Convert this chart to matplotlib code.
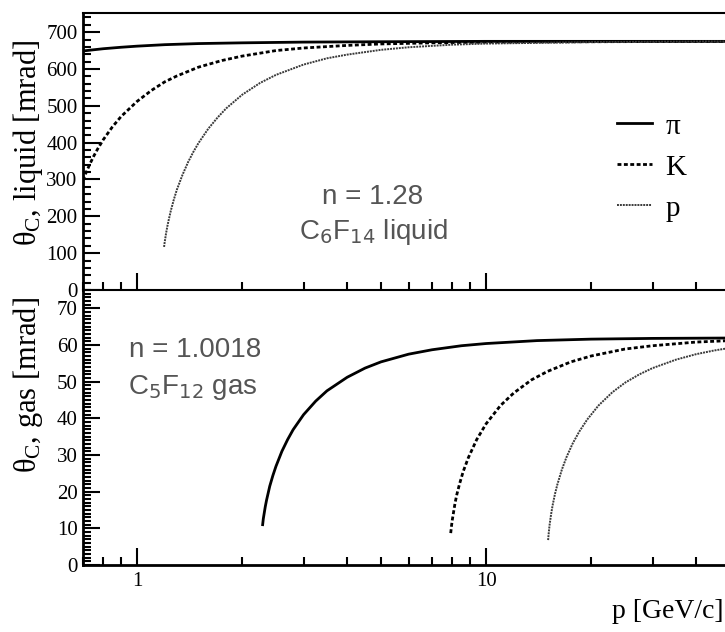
import numpy as np
import matplotlib
matplotlib.use('Agg')
import matplotlib.pyplot as plt
from matplotlib.ticker import LogLocator, NullFormatter, MultipleLocator
from matplotlib.lines import Line2D

plt.rcParams['font.family'] = 'Liberation Serif'
plt.rcParams['mathtext.fontset'] = 'custom'
plt.rcParams['mathtext.rm'] = 'Liberation Serif'
plt.rcParams['mathtext.it'] = 'Liberation Serif:italic'

# liquid radiator, n = 1.28  (p in GeV/c, theta in mrad)
p_pi_liq = [0.7, 0.8, 0.9, 1.0, 1.2, 1.5, 2, 3, 5, 10, 20, 50]
th_pi_liq = [649, 655, 659, 662, 666, 669, 671, 673, 674, 675, 675, 675]
p_k_liq = [0.7, 0.71, 0.72, 0.73, 0.75, 0.77, 0.8, 0.85, 0.9, 1.0, 1.1, 1.2, 1.3,
           1.5, 1.75, 2, 2.5, 3, 4, 5, 7, 10, 20, 50]
th_k_liq = [298, 313, 326, 339, 362, 382, 408, 443, 471, 512, 542, 565, 581,
            605, 623, 635, 650, 657, 664, 668, 671, 673, 674, 675]
p_p_liq = [1.195, 1.2, 1.21, 1.22, 1.23, 1.25, 1.275, 1.3, 1.35, 1.4, 1.45, 1.5,
           1.6, 1.7, 1.8, 2.0, 2.25, 2.5, 3, 3.5, 4, 5, 6, 8, 10, 20, 50]
th_p_liq = [117, 130, 152, 171, 187, 216, 246, 272, 313, 347, 375, 399,
            438, 468, 493, 530, 562, 584, 612, 629, 639, 652, 659, 666, 669, 673, 675]

# gas radiator, n = 1.0018
p_pi_gas = [2.29, 2.3, 2.33, 2.35, 2.4, 2.45, 2.5, 2.6, 2.7, 2.8, 3.0, 3.25, 3.5,
            4, 4.5, 5, 6, 7, 8.5, 10, 14, 20, 30, 50]
th_pi_gas = [11, 12.6, 15.9, 17.7, 21.5, 24.4, 26.9, 31.0, 34.2, 36.9, 41.0, 44.7, 47.5,
             51.2, 53.7, 55.4, 57.5, 58.7, 59.8, 60.4, 61.2, 61.6, 61.8, 61.9]
p_k_gas = [7.92, 7.96, 8.0, 8.15, 8.25, 8.4, 8.6, 8.9, 9.4, 10, 11, 12, 13.5, 15,
           17.5, 20, 25, 30, 40, 50]
th_k_gas = [8.7, 10.6, 12.2, 16.9, 19.3, 22.2, 25.5, 29.3, 34.2, 38.5, 43.5, 46.9, 50.5, 52.8,
            55.4, 57.0, 58.9, 59.8, 60.8, 61.2]
p_p_gas = [15.06, 15.12, 15.2, 15.35, 15.5, 15.75, 16, 16.5, 17, 17.7, 18.5, 19.5, 21,
           23, 25, 27.5, 30, 35, 40, 45, 50]
th_p_gas = [6.8, 8.7, 10.8, 13.7, 16.1, 19.3, 21.9, 26.1, 29.4, 33.1, 36.4, 39.7, 43.5,
            47.1, 49.7, 52.0, 53.7, 56.0, 57.5, 58.5, 59.2]

W, H = 725, 632
fig = plt.figure(figsize=(W / 100, H / 100), dpi=100)
left = 83 / W
width = (730 - 83) / W
ax1 = fig.add_axes([left, 1 - 290 / H, width, 277 / H])
ax2 = fig.add_axes([left, 1 - 565 / H, width, 275 / H], sharex=ax1)

styles = {
    'pi': dict(color='black', lw=2.0, ls='-'),
    'K': dict(color='black', lw=2.0, ls=(0, (1.4, 0.9))),
    'p': dict(color='#3a3a3a', lw=1.4, ls=(0, (1.0, 0.5))),
}

ax1.plot(p_pi_liq, th_pi_liq, **styles['pi'])
ax1.plot(p_k_liq, th_k_liq, **styles['K'])
ax1.plot(p_p_liq, th_p_liq, **styles['p'])
ax2.plot(p_pi_gas, th_pi_gas, **styles['pi'])
ax2.plot(p_k_gas, th_k_gas, **styles['K'])
ax2.plot(p_p_gas, th_p_gas, **styles['p'])

for ax in (ax1, ax2):
    ax.set_xscale('log')
    ax.set_xlim(0.7, 50)
    ax.spines['right'].set_visible(False)
    for s in ('left', 'bottom'):
        ax.spines[s].set_linewidth(2)
    ax.spines['top'].set_linewidth(1.5)
    ax.tick_params(which='both', direction='in', top=False, right=False,
                   labelsize=15, width=1.5)
    ax.tick_params(which='major', length=12, pad=5)
    ax.tick_params(which='minor', length=6)
    ax.xaxis.set_minor_locator(LogLocator(base=10, subs=np.arange(2, 10)))
    ax.xaxis.set_minor_formatter(NullFormatter())

ax2.set_xticks([1, 10])
ax2.set_xticklabels(['1', '10'])
ax1.tick_params(axis='x', labelbottom=False)

ax1.set_ylim(0, 752)
ax1.yaxis.set_major_locator(MultipleLocator(100))
ax1.yaxis.set_minor_locator(MultipleLocator(20))
ax2.set_ylim(0, 75)
ax2.yaxis.set_major_locator(MultipleLocator(10))
ax2.yaxis.set_minor_locator(MultipleLocator(1))
ax2.set_yticks(range(0, 80, 10))
ax1.tick_params(axis='y', pad=4)
ax2.tick_params(axis='y', pad=4)

fig.text(28 / W, 1 - 143 / H, r'$\mathrm{\theta_C}$, liquid [mrad]', rotation=90,
         ha='center', va='center', fontsize=22)
fig.text(28 / W, 1 - 385 / H, r'$\mathrm{\theta_C}$, gas [mrad]', rotation=90,
         ha='center', va='center', fontsize=22)
fig.text(723 / W, 1 - 612 / H, 'p [GeV/c]', ha='right', va='center', fontsize=20)

gray = '#555555'
sans = 'Liberation Sans'
fig.text(373 / W, 1 - 197 / H, 'n = 1.28', ha='center', va='center',
         fontsize=20, color=gray, family=sans)
fig.text(373 / W, 1 - 232 / H, r'C$_6$F$_{14}$ liquid', ha='center', va='center',
         fontsize=20, color=gray, family=sans, math_fontfamily='dejavusans')
fig.text(195 / W, 1 - 350 / H, 'n = 1.0018', ha='center', va='center',
         fontsize=20, color=gray, family=sans)
fig.text(193 / W, 1 - 387 / H, r'C$_5$F$_{12}$ gas', ha='center', va='center',
         fontsize=20, color=gray, family=sans, math_fontfamily='dejavusans')

handles = [Line2D([], [], **styles['pi']),
           Line2D([], [], **styles['K']),
           Line2D([], [], **styles['p'])]
ax1.legend(handles, [r'$\mathrm{\pi}$', 'K', 'p'], loc='upper left',
           bbox_to_anchor=((591 - 83) / 647, (290 - 87) / 277), frameon=False,
           fontsize=21, handlelength=1.2, handletextpad=0.45, labelspacing=0.5)

fig.savefig('out.png', dpi=100)
